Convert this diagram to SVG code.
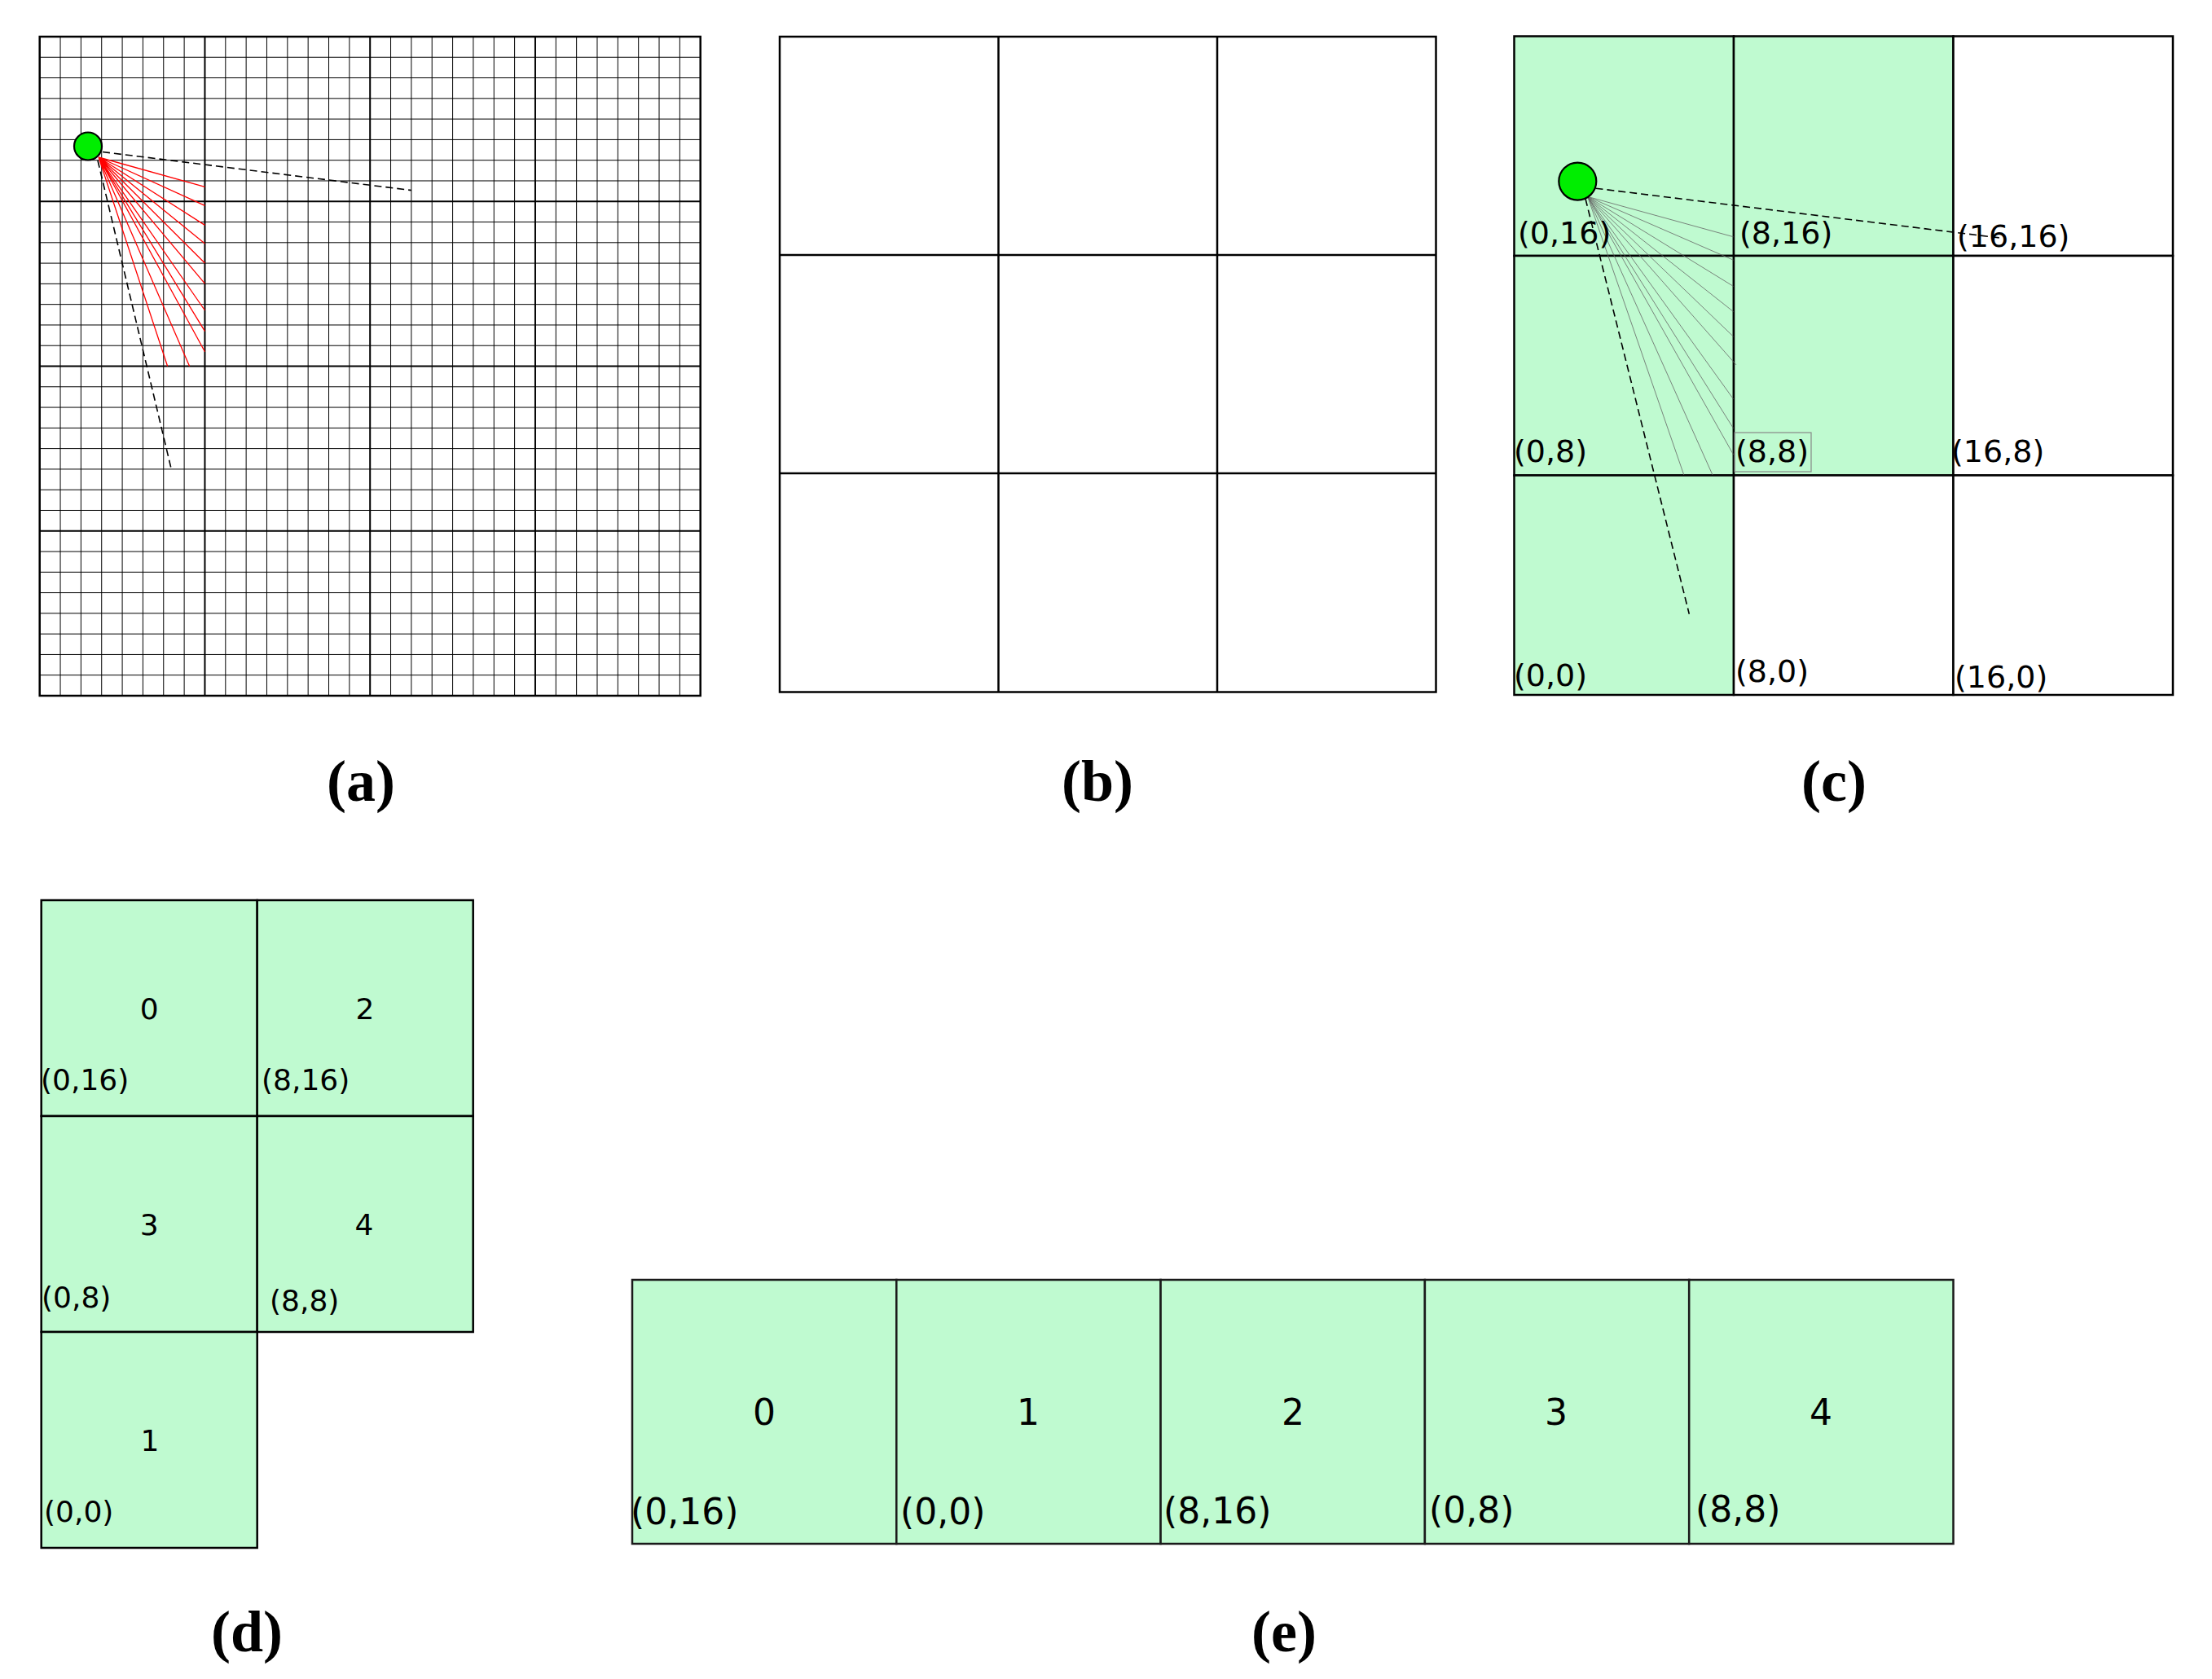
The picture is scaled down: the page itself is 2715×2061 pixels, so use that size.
<svg xmlns="http://www.w3.org/2000/svg" width="2715" height="2061" viewBox="0 0 2715 2061">
<style>
.fine{stroke:#000;stroke-width:1;fill:none}
.major{stroke:#000;stroke-width:2;fill:none}
.frame{stroke:#000;stroke-width:2.5;fill:none}
.cellw{fill:#fff;stroke:#000;stroke-width:2.5}
.cellg{fill:#BFFAD0;stroke:#000;stroke-width:2.5}
.cellg2{fill:#BFFAD0;stroke:#1a1a1a;stroke-width:2.5}
.red{stroke:#ff0000;stroke-width:1.3;fill:none}
.gray{stroke:#666;stroke-width:0.8;fill:none}
.dash{stroke:#000;stroke-width:1.6;stroke-dasharray:9 5;fill:none}
.dot{fill:#00ee00;stroke:#000;stroke-width:2.2}
.cap{font-family:"Liberation Serif","Times New Roman",serif;font-weight:bold;font-size:72px;text-anchor:middle;fill:#000}
.lc{font-family:"DejaVu Sans",Verdana,sans-serif;font-size:38px;fill:#000}
.ld{font-family:"DejaVu Sans",Verdana,sans-serif;font-size:36px;fill:#000}
.nd{font-family:"DejaVu Sans",Verdana,sans-serif;font-size:36px;fill:#000;text-anchor:middle}
.le{font-family:"DejaVu Sans",Verdana,sans-serif;font-size:44px;fill:#000}
.ne{font-family:"DejaVu Sans",Verdana,sans-serif;font-size:44px;fill:#000;text-anchor:middle}
</style>
<rect width="2715" height="2061" fill="#fff"/>

<!-- Panel (a) -->
<g id="panel-a">
<rect x="48.7" y="45" width="811" height="809" fill="#fff"/>
<path class="fine" d="M74.04 45V854M99.39 45V854M124.73 45V854M150.08 45V854M175.42 45V854M200.76 45V854M226.11 45V854M276.8 45V854M302.14 45V854M327.48 45V854M352.83 45V854M378.17 45V854M403.52 45V854M428.86 45V854M479.55 45V854M504.89 45V854M530.24 45V854M555.58 45V854M580.92 45V854M606.27 45V854M631.61 45V854M682.3 45V854M707.64 45V854M732.99 45V854M758.33 45V854M783.68 45V854M809.02 45V854M834.36 45V854"/>
<path class="fine" d="M48.7 70.28H859.7M48.7 95.56H859.7M48.7 120.84H859.7M48.7 146.12H859.7M48.7 171.41H859.7M48.7 196.69H859.7M48.7 221.97H859.7M48.7 272.53H859.7M48.7 297.81H859.7M48.7 323.09H859.7M48.7 348.37H859.7M48.7 373.66H859.7M48.7 398.94H859.7M48.7 424.22H859.7M48.7 474.78H859.7M48.7 500.06H859.7M48.7 525.34H859.7M48.7 550.62H859.7M48.7 575.91H859.7M48.7 601.19H859.7M48.7 626.47H859.7M48.7 677.03H859.7M48.7 702.31H859.7M48.7 727.59H859.7M48.7 752.87H859.7M48.7 778.16H859.7M48.7 803.44H859.7M48.7 828.72H859.7"/>
<path class="major" d="M251.45 45V854M454.2 45V854M656.96 45V854M48.7 247.25H859.7M48.7 449.5H859.7M48.7 651.75H859.7"/>
<rect class="frame" x="48.7" y="45" width="811" height="809"/>
</g>

<!-- Panel (b) -->
<g id="panel-b">
<rect class="cellw" x="957" y="45" width="805.5" height="804.5"/>
<path class="frame" d="M1225.5 45V849.5M1494 45V849.5M957 313H1762.5M957 581H1762.5"/>
</g>

<!-- Panel (c) -->
<g id="panel-c">
<g id="c-cell-0-16"><rect class="cellg" x="1858.5" y="44.5" width="269.5" height="269.5"/></g>
<g id="c-cell-8-16"><rect class="cellg" x="2128" y="44.5" width="269.5" height="269.5"/></g>
<g id="c-cell-16-16"><rect class="cellw" x="2397.5" y="44.5" width="269.5" height="269.5"/></g>
<g id="c-cell-0-8"><rect class="cellg" x="1858.5" y="314" width="269.5" height="269.5"/></g>
<g id="c-cell-8-8"><rect class="cellg" x="2128" y="314" width="269.5" height="269.5"/></g>
<g id="c-cell-16-8"><rect class="cellw" x="2397.5" y="314" width="269.5" height="269.5"/></g>
<g id="c-cell-0-0"><rect class="cellg" x="1858.5" y="583.5" width="269.5" height="269.5"/></g>
<g id="c-cell-8-0"><rect class="cellw" x="2128" y="583.5" width="269.5" height="269.5"/></g>
<g id="c-cell-16-0"><rect class="cellw" x="2397.5" y="583.5" width="269.5" height="269.5"/></g>
</g>

<!-- rays and dashed sight lines -->
<g id="connectors">
<g id="rays-a">
<path class="red" d="M121 193L251.45 229.3M121 193L251.45 252.3M121 193L251.45 276.4M121 193L251.45 299M121 193L251.45 323M121 193L251.45 348.2M121 193L251.45 381M121 193L251.45 406.7M121 193L251.45 431.8M121 193L232.6 449.5M121 193L205.6 449.5"/>
<path class="dash" d="M126 186.5L505 233.6"/>
<path class="dash" d="M120 197L210.4 576.5"/>
</g>
<g id="rays-c">
<path class="gray" d="M1948.7 241.4L2127.5 290.7M1948.7 241.4L2127.5 319.2M1948.7 241.4L2127.5 351.4M1948.7 241.4L2127.5 382.5M1948.7 241.4L2127.5 413.1M1948.7 241.4L2131 447.9M1948.7 241.4L2127.5 489.8M1948.7 241.4L2127.5 525.7M1948.7 241.4L2127.5 557.9M1948.7 241.4L2102 583M1948.7 241.4L2066.8 583"/>
<path class="dash" d="M1958.5 231.2L2457.8 292.4"/>
<path class="dash" d="M1946 244L2073.3 753.7"/>
</g>
</g>

<g id="source-a"><circle class="dot" cx="108" cy="179.5" r="17"/></g>
<g id="source-c"><circle class="dot" cx="1936.3" cy="222.6" r="23"/></g>

<g id="labels-c">
<text class="lc" x="1863" y="299">(0,16)</text>
<text class="lc" x="2135" y="299">(8,16)</text>
<text class="lc" x="2402" y="303">(16,16)</text>
<text class="lc" x="1858" y="567">(0,8)</text>
<rect x="2129" y="531" width="94" height="48" fill="none" stroke="#888" stroke-width="1.2"/>
<text class="lc" x="2130" y="567">(8,8)</text>
<text class="lc" x="2395" y="567">(16,8)</text>
<text class="lc" x="1858" y="842">(0,0)</text>
<text class="lc" x="2130" y="837">(8,0)</text>
<text class="lc" x="2399" y="844">(16,0)</text>
</g>

<!-- Panel (d) -->
<g id="panel-d">
<g id="d-node-0"><rect class="cellg" x="50.7" y="1105" width="265" height="265"/><text class="nd" x="183.2" y="1251">0</text><text class="ld" x="50" y="1338">(0,16)</text></g>
<g id="d-node-2"><rect class="cellg" x="315.7" y="1105" width="265" height="265"/><text class="nd" x="448" y="1251">2</text><text class="ld" x="321" y="1338">(8,16)</text></g>
<g id="d-node-3"><rect class="cellg" x="50.7" y="1370" width="265" height="265"/><text class="nd" x="183.2" y="1516">3</text><text class="ld" x="51" y="1605">(0,8)</text></g>
<g id="d-node-4"><rect class="cellg" x="315.7" y="1370" width="265" height="265"/><text class="nd" x="447" y="1516">4</text><text class="ld" x="331" y="1609">(8,8)</text></g>
<g id="d-node-1"><rect class="cellg" x="50.7" y="1635" width="265" height="265"/><text class="nd" x="184" y="1781">1</text><text class="ld" x="54" y="1868">(0,0)</text></g>
</g>

<!-- Panel (e) -->
<g id="panel-e">
<g id="e-node-0"><rect class="cellg2" x="776" y="1571" width="324.3" height="324"/><text class="ne" x="938" y="1749">0</text><text class="le" x="774" y="1871">(0,16)</text></g>
<g id="e-node-1"><rect class="cellg2" x="1100.3" y="1571" width="324.3" height="324"/><text class="ne" x="1262" y="1749">1</text><text class="le" x="1105" y="1871">(0,0)</text></g>
<g id="e-node-2"><rect class="cellg2" x="1424.6" y="1571" width="324.3" height="324"/><text class="ne" x="1587" y="1749">2</text><text class="le" x="1428" y="1870">(8,16)</text></g>
<g id="e-node-3"><rect class="cellg2" x="1748.9" y="1571" width="324.3" height="324"/><text class="ne" x="1910" y="1749">3</text><text class="le" x="1754" y="1869">(0,8)</text></g>
<g id="e-node-4"><rect class="cellg2" x="2073.2" y="1571" width="324.3" height="324"/><text class="ne" x="2235" y="1749">4</text><text class="le" x="2081" y="1868">(8,8)</text></g>
</g>

<g id="captions">
<text class="cap" x="443" y="983">(a)</text>
<text class="cap" x="1347" y="983">(b)</text>
<text class="cap" x="2251" y="983">(c)</text>
<text class="cap" x="303" y="2027">(d)</text>
<text class="cap" x="1576" y="2027">(e)</text>
</g>
</svg>
